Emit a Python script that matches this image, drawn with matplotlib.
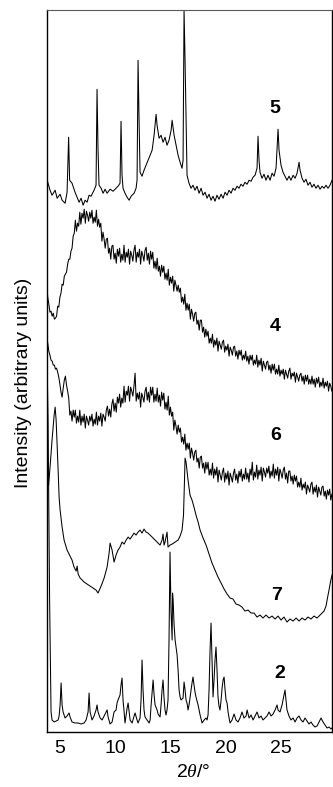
import matplotlib
matplotlib.use('Agg')
import matplotlib.pyplot as plt

plt.rcParams['font.family'] = ['Liberation Sans', 'DejaVu Sans']
plt.rcParams['mathtext.fontset'] = 'custom'
plt.rcParams['mathtext.it'] = 'Liberation Serif:italic'
plt.rcParams['mathtext.rm'] = 'Liberation Sans'

# ---------------- data (2theta in degrees, intensity in arbitrary units incl. offset) -------------
x_ticks = [5, 10, 15, 20, 25]
curve_labels = ['5', '4', '6', '7', '2']
label_x = [24.46, 24.46, 24.55, 24.6, 24.9]
label_y = [624, 406, 297, 137, 59]

# sample 5
tt5 = [3.80, 3.85, 3.93, 4.11, 4.29, 4.57, 4.75, 5.02, 5.20, 5.47, 5.65, 5.79, 5.88, 6.10, 6.37,
       6.56, 6.74, 6.92, 7.10, 7.28, 7.46, 7.64, 7.82, 8.09, 8.27, 8.36, 8.45, 8.54, 8.73, 8.91,
       9.09, 9.27, 9.54, 9.81, 10.08, 10.26, 10.44, 10.53, 10.62, 10.71, 10.89, 11.08, 11.26,
       11.44, 11.71, 11.89, 11.98, 12.07, 12.16, 12.25, 12.43, 12.61, 12.79, 12.97, 13.16, 13.34,
       13.52, 13.70, 13.79, 13.97, 14.15, 14.33, 14.51, 14.69, 14.87, 15.06, 15.15, 15.33, 15.51,
       15.69, 15.87, 16.05, 16.14, 16.23, 16.32, 16.41, 16.50, 16.68, 16.86, 17.04, 17.22, 17.40,
       17.59, 17.77, 17.95, 18.13, 18.31, 18.49, 18.67, 18.85, 19.03, 19.21, 19.39, 19.58, 19.76,
       19.94, 20.12, 20.30, 20.48, 20.66, 20.84, 21.02, 21.20, 21.38, 21.56, 21.74, 21.93, 22.11,
       22.29, 22.47, 22.65, 22.83, 22.92, 23.01, 23.10, 23.28, 23.46, 23.64, 23.82, 24.01, 24.19,
       24.37, 24.55, 24.73, 24.82, 25.00, 25.18, 25.36, 25.54, 25.72, 25.90, 26.09, 26.27, 26.45,
       26.63, 26.72, 26.90, 27.08, 27.26, 27.44, 27.62, 27.80, 27.98, 28.16, 28.35, 28.53, 28.71,
       28.89, 29.07, 29.25, 29.43, 29.61]
int5 = [572, 552, 549, 542, 537, 542, 534, 538, 532, 529, 540, 595, 552, 549, 540,
        535, 530, 534, 527, 532, 530, 537, 536, 542, 547, 643, 582, 547, 544, 539,
        543, 539, 543, 541, 544, 546, 549, 611, 557, 544, 539, 535, 532,
        536, 539, 544, 552, 672, 612, 560, 556, 562, 567, 572, 577, 582,
        597, 618, 607, 594, 597, 590, 595, 587, 592, 602, 612, 597, 587,
        577, 570, 564, 572, 722, 672, 612, 557, 549, 544, 547, 542, 546,
        539, 544, 537, 540, 534, 538, 532, 536, 531, 537, 533, 538, 534,
        540, 537, 542, 539, 544, 542, 546, 544, 548, 546, 550, 548, 552,
        551, 555, 557, 564, 596, 572, 560, 554, 558, 552, 557, 552, 559,
        556, 564, 603, 582, 567, 560, 556, 552, 556, 552, 557, 554, 559,
        570, 562, 554, 550, 553, 547, 550, 545, 548, 544, 547, 543, 546,
        544, 547, 544, 547, 552]

# common angle grid of the noisy scans 4 and 6
grid = [3.8, 3.9, 4.0, 4.1, 4.2, 4.3, 4.4, 4.5, 4.6, 4.7, 4.8, 4.9, 5.0, 5.1, 5.2, 5.3, 5.4, 5.5, 5.6, 5.7,
        5.8, 5.9, 6.0, 6.1, 6.2, 6.3, 6.4, 6.5, 6.6, 6.7, 6.8, 6.9, 7.0, 7.1, 7.2, 7.3, 7.4, 7.5, 7.6, 7.7,
        7.8, 7.9, 8.0, 8.1, 8.2, 8.3, 8.4, 8.5, 8.6, 8.7, 8.8, 8.9, 9.0, 9.1, 9.2, 9.3, 9.4, 9.5, 9.6, 9.7,
        9.8, 9.9, 10.0, 10.1, 10.2, 10.3, 10.4, 10.5, 10.6, 10.7, 10.8, 10.9, 11.0, 11.1, 11.2, 11.3, 11.4, 11.5, 11.6, 11.7,
        11.8, 11.9, 12.0, 12.1, 12.2, 12.3, 12.4, 12.5, 12.6, 12.7, 12.8, 12.9, 13.0, 13.1, 13.2, 13.3, 13.4, 13.5, 13.6, 13.7,
        13.8, 13.9, 14.0, 14.1, 14.2, 14.3, 14.4, 14.5, 14.6, 14.7, 14.8, 14.9, 15.0, 15.1, 15.2, 15.3, 15.4, 15.5, 15.6, 15.7,
        15.8, 15.9, 16.0, 16.1, 16.2, 16.3, 16.4, 16.5, 16.6, 16.7, 16.8, 16.9, 17.0, 17.1, 17.2, 17.3, 17.4, 17.5, 17.6, 17.7,
        17.8, 17.9, 18.0, 18.1, 18.2, 18.3, 18.4, 18.5, 18.6, 18.7, 18.8, 18.9, 19.0, 19.1, 19.2, 19.3, 19.4, 19.5, 19.6, 19.7,
        19.8, 19.9, 20.0, 20.1, 20.2, 20.3, 20.4, 20.5, 20.6, 20.7, 20.8, 20.9, 21.0, 21.1, 21.2, 21.3, 21.4, 21.5, 21.6, 21.7,
        21.8, 21.9, 22.0, 22.1, 22.2, 22.3, 22.4, 22.5, 22.6, 22.7, 22.8, 22.9, 23.0, 23.1, 23.2, 23.3, 23.4, 23.5, 23.6, 23.7,
        23.8, 23.9, 24.0, 24.1, 24.2, 24.3, 24.4, 24.5, 24.6, 24.7, 24.8, 24.9, 25.0, 25.1, 25.2, 25.3, 25.4, 25.5, 25.6, 25.7,
        25.8, 25.9, 26.0, 26.1, 26.2, 26.3, 26.4, 26.5, 26.6, 26.7, 26.8, 26.9, 27.0, 27.1, 27.2, 27.3, 27.4, 27.5, 27.6, 27.7,
        27.8, 27.9, 28.0, 28.1, 28.2, 28.3, 28.4, 28.5, 28.6, 28.7, 28.8, 28.9, 29.0, 29.1, 29.2, 29.3, 29.4, 29.5, 29.6]

# sample 4
int4 = [450, 435, 428, 420, 421, 416, 419, 413, 414, 416, 426, 425, 435, 439, 448, 447, 456, 458, 460, 468,
        473, 473, 481, 484, 496, 499, 512, 501, 509, 506, 520, 508, 519, 514, 523, 509, 521, 517, 511, 520,
        514, 522, 509, 515, 510, 522, 506, 513, 505, 509, 491, 500, 493, 484, 493, 494, 479, 484, 473, 486,
        487, 473, 479, 469, 483, 476, 484, 470, 478, 472, 487, 470, 480, 475, 483, 468, 481, 477, 471, 482,
        487, 470, 480, 475, 483, 468, 481, 477, 471, 482, 485, 472, 479, 468, 481, 473, 480, 464, 471, 463,
        474, 461, 466, 456, 467, 460, 466, 453, 459, 452, 463, 447, 455, 449, 456, 441, 452, 447, 441, 447,
        440, 444, 430, 435, 428, 438, 422, 429, 422, 428, 413, 423, 418, 411, 419, 420, 408, 412, 402, 412,
        412, 400, 405, 395, 403, 396, 401, 389, 394, 389, 398, 385, 392, 387, 394, 381, 391, 387, 383, 390,
        392, 380, 386, 382, 388, 376, 385, 382, 377, 385, 386, 376, 381, 373, 382, 377, 382, 372, 377, 373,
        381, 371, 376, 368, 377, 372, 377, 367, 372, 368, 377, 365, 372, 367, 374, 361, 371, 367, 363, 370,
        371, 362, 367, 359, 368, 362, 368, 358, 363, 358, 367, 356, 362, 358, 363, 353, 362, 358, 354, 361,
        364, 353, 359, 356, 360, 350, 359, 355, 351, 357, 359, 351, 356, 348, 357, 351, 357, 348, 353, 348,
        356, 348, 353, 345, 354, 349, 355, 345, 350, 346, 354, 344, 350, 346, 351, 341, 349, 346, 341]

# sample 6
int6 = [397, 389, 381, 377, 372, 371, 367, 367, 363, 364, 360, 355, 348, 340, 335, 344, 352, 356, 347, 341,
        334, 317, 321, 311, 322, 315, 322, 309, 316, 310, 322, 307, 316, 310, 318, 304, 316, 312, 307, 316,
        311, 318, 306, 313, 308, 320, 307, 316, 311, 319, 306, 318, 315, 311, 322, 326, 316, 323, 315, 328,
        333, 321, 329, 320, 335, 329, 338, 325, 334, 329, 346, 330, 341, 337, 346, 331, 345, 341, 336, 346,
        359, 331, 339, 333, 340, 325, 339, 335, 330, 341, 345, 332, 340, 330, 345, 337, 345, 330, 338, 331,
        344, 330, 337, 326, 340, 332, 339, 323, 330, 322, 336, 317, 325, 316, 320, 302, 312, 306, 298, 307,
        300, 304, 290, 295, 288, 298, 282, 289, 283, 289, 274, 284, 279, 272, 280, 282, 270, 274, 264, 275,
        276, 264, 269, 259, 270, 263, 270, 257, 263, 257, 269, 254, 263, 257, 265, 250, 262, 257, 252, 260,
        264, 250, 259, 253, 261, 247, 259, 255, 250, 259, 263, 252, 258, 249, 261, 255, 263, 251, 258, 253,
        264, 253, 259, 250, 263, 257, 270, 252, 260, 255, 267, 253, 262, 257, 265, 251, 264, 260, 255, 264,
        259, 266, 254, 261, 256, 268, 254, 263, 257, 265, 251, 263, 259, 254, 262, 265, 253, 259, 249, 261,
        261, 251, 256, 248, 257, 251, 256, 245, 250, 245, 254, 242, 248, 244, 250, 238, 247, 244, 240, 248,
        250, 238, 245, 240, 247, 235, 245, 241, 237, 245, 246, 236, 241, 233, 242, 237, 243, 232, 238]

# sample 7
tt7 = [3.98, 4.11, 4.29, 4.48, 4.57, 4.66, 4.84, 4.93, 5.02, 5.20, 5.38, 5.65, 5.74, 5.92, 6.10,
       6.28, 6.47, 6.56, 6.65, 6.83, 7.19, 7.46, 7.73, 8.00, 8.27, 8.45, 8.73, 9.00, 9.27, 9.45,
       9.54, 9.72, 9.90, 10.08, 10.26, 10.44, 10.62, 10.81, 10.99, 11.17, 11.35, 11.53, 11.71,
       11.89, 12.07, 12.25, 12.43, 12.61, 12.79, 12.97, 13.16, 13.34, 13.52, 13.70, 13.88, 14.06,
       14.24, 14.33, 14.42, 14.51, 14.69, 14.78, 14.96, 15.15, 15.42, 15.69, 15.87, 16.05, 16.18,
       16.27, 16.32, 16.41, 16.59, 16.77, 16.95, 17.13, 17.31, 17.50, 17.68, 17.95, 18.22, 18.49,
       18.76, 19.03, 19.30, 19.58, 19.85, 20.12, 20.39, 20.66, 20.93, 21.20, 21.47, 21.74, 22.02,
       22.29, 22.56, 22.83, 23.10, 23.37, 23.64, 23.92, 24.19, 24.46, 24.73, 25.00, 25.27, 25.54,
       25.81, 26.09, 26.36, 26.63, 26.90, 27.17, 27.44, 27.71, 27.98, 28.26, 28.53, 28.71, 28.89,
       29.07, 29.20, 29.34, 29.47, 29.61]
int7 = [247, 265, 292, 317, 325, 312, 262, 235, 222, 205, 192, 182, 180, 176, 172,
        165, 161, 166, 158, 154, 150, 148, 146, 144, 142, 139, 146, 154, 165, 179,
        189, 182, 170, 177, 182, 185, 190, 188, 192, 195, 193, 196, 199,
        197, 200, 202, 199, 203, 200, 199, 197, 195, 193, 191, 189, 187,
        192, 198, 187, 190, 200, 185, 187, 188, 190, 192, 196, 202, 217,
        252, 274, 270, 252, 237, 232, 225, 217, 210, 202, 194, 187, 178,
        169, 162, 155, 149, 143, 138, 134, 133, 128, 127, 125, 121, 122,
        119, 119, 115, 117, 114, 117, 114, 116, 113, 116, 112, 115, 110,
        113, 111, 114, 111, 114, 112, 115, 113, 116, 114, 117, 119, 121,
        126, 134, 142, 150, 157]

# sample 2
tt2 = [3.80, 3.93, 4.07, 4.20, 4.29, 4.48, 4.66, 4.84, 4.93, 5.02, 5.11, 5.20, 5.29, 5.47, 5.65,
       5.83, 5.92, 6.10, 6.37, 6.65, 6.92, 7.19, 7.37, 7.55, 7.64, 7.73, 7.91, 8.09, 8.27, 8.36,
       8.45, 8.64, 8.82, 9.00, 9.18, 9.27, 9.36, 9.54, 9.72, 9.90, 10.08, 10.17, 10.26, 10.44,
       10.53, 10.62, 10.71, 10.81, 10.89, 10.99, 11.08, 11.17, 11.26, 11.35, 11.53, 11.71, 11.80,
       11.98, 12.07, 12.25, 12.34, 12.43, 12.52, 12.61, 12.70, 12.88, 13.07, 13.16, 13.25, 13.43,
       13.52, 13.61, 13.79, 13.88, 14.06, 14.15, 14.24, 14.33, 14.42, 14.51, 14.60, 14.69, 14.78,
       14.87, 14.96, 15.05, 15.15, 15.19, 15.24, 15.33, 15.42, 15.60, 15.69, 15.78, 15.87, 15.96,
       16.14, 16.23, 16.32, 16.41, 16.50, 16.59, 16.68, 16.86, 16.95, 17.04, 17.13, 17.22, 17.31,
       17.50, 17.68, 17.86, 18.04, 18.22, 18.31, 18.40, 18.49, 18.58, 18.67, 18.76, 18.85, 18.94,
       19.03, 19.12, 19.21, 19.30, 19.39, 19.48, 19.58, 19.67, 19.76, 19.85, 19.94, 20.03, 20.12,
       20.21, 20.30, 20.39, 20.57, 20.75, 20.93, 21.11, 21.29, 21.47, 21.65, 21.84, 21.93, 22.11,
       22.29, 22.47, 22.65, 22.83, 23.01, 23.19, 23.37, 23.55, 23.73, 23.92, 24.10, 24.28, 24.46,
       24.64, 24.73, 24.91, 25.09, 25.18, 25.27, 25.36, 25.45, 25.54, 25.72, 25.90, 26.09, 26.27,
       26.45, 26.63, 26.81, 26.99, 27.17, 27.35, 27.53, 27.71, 27.89, 28.07, 28.26, 28.44, 28.62,
       28.80, 28.98, 29.16, 29.34, 29.52, 29.61]
int2 = [397, 312, 132, 20, 12, 10, 11, 12, 16, 27, 49, 27, 20, 14, 16,
        19, 15, 10, 9, 9, 8, 9, 12, 20, 39, 20, 12, 16, 22, 27,
        20, 14, 12, 16, 20, 22, 15, 8, 10, 20, 22, 29, 32, 37,
        47, 54, 32, 20, 9, 17, 24, 29, 20, 12, 9, 16, 19,
        12, 9, 14, 32, 72, 42, 22, 15, 12, 9, 12, 27, 52,
        37, 27, 22, 18, 15, 27, 42, 52, 34, 22, 17, 22, 32,
        92, 180, 122, 92, 139, 132, 107, 92, 77, 62, 42, 35, 32,
        34, 50, 42, 32, 29, 22, 27, 42, 49, 55, 47, 40, 35,
        27, 17, 9, 12, 14, 12, 17, 42, 82, 109, 72, 35, 52,
        72, 85, 62, 35, 26, 22, 32, 44, 52, 55, 42, 32, 29,
        20, 14, 9, 12, 18, 12, 10, 14, 20, 14, 16, 22, 14,
        17, 12, 16, 20, 14, 16, 12, 14, 16, 20, 16, 18, 22,
        27, 22, 20, 27, 32, 37, 42, 32, 22, 16, 12, 14, 10,
        14, 16, 12, 10, 14, 11, 8, 10, 7, 5, 6, 10, 14,
        10, 7, 4, 5, 3, 4]

# ---------------- figure ----------------
fig = plt.figure(figsize=(3.33, 7.87), dpi=100)
ax = fig.add_axes([0.14, 0.0699, 0.857, 0.917])

lw = 0.75
ax.plot(tt5, int5, color='black', lw=lw)
ax.plot(grid, int4, color='black', lw=lw)
ax.plot(grid, int6, color='black', lw=lw)
ax.plot(tt7, int7, color='black', lw=lw)
ax.plot(tt2, int2, color='black', lw=lw)

for lab, lx, ly in zip(curve_labels, label_x, label_y):
    ax.text(lx, ly, lab, ha='center', va='center', fontsize=14, fontweight='bold')

ax.set_xlim(3.8, 29.61)
ax.set_ylim(0, 722)
ax.set_xticks(x_ticks)
ax.set_xticklabels([str(v) for v in x_ticks])
ax.set_yticks([])
ax.tick_params(axis='x', length=0, labelsize=14, pad=6)

for side in ['left', 'bottom', 'right']:
    ax.spines[side].set_linewidth(1.0)
    ax.spines[side].set_color('black')
ax.spines['top'].set_linewidth(0.8)
ax.spines['top'].set_color('0.35')

fig.text(0.58, 0.018, r'2$\theta$/°', ha='center', va='center', fontsize=14)
fig.text(0.072, 0.513, 'Intensity (arbitrary units)', rotation=90,
         ha='center', va='center', fontsize=14)

fig.savefig('out.png', dpi=100)
